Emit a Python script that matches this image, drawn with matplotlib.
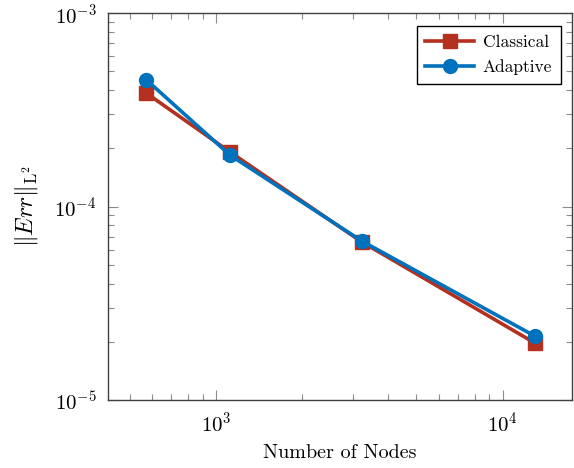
import matplotlib
matplotlib.use('Agg')
import matplotlib.pyplot as plt

plt.rcParams['font.family'] = 'serif'
plt.rcParams['font.serif'] = ['cmr10', 'DejaVu Serif']
plt.rcParams['mathtext.fontset'] = 'cm'
plt.rcParams['axes.formatter.use_mathtext'] = True

# data
nodes = [573, 1119, 3222, 12966]
err_classical = [3.86e-4, 1.92e-4, 6.58e-5, 1.97e-5]
err_adaptive = [4.52e-4, 1.85e-4, 6.65e-5, 2.14e-5]

red = '#B4301F'
blue = '#0072BD'

fig = plt.figure(figsize=(5.74, 4.68), dpi=100)
ax = fig.add_axes([0.1873, 0.1453, 0.8092, 0.8263])

ax.plot(nodes, err_classical, color=red, lw=2.6, marker='s', ms=10,
        label='Classical')
ax.plot(nodes, err_adaptive, color=blue, lw=2.6, marker='o', ms=10,
        label='Adaptive')

ax.set_xscale('log')
ax.set_yscale('log')
ax.set_xlim(419, 17460)
ax.set_ylim(1e-5, 1e-3)

ax.tick_params(which='both', direction='in', top=True, right=True,
               color='#8c8c8c', labelsize=15, pad=8)
ax.tick_params(which='major', length=7, width=0.8)
ax.tick_params(which='minor', length=4, width=0.8)
for s in ax.spines.values():
    s.set_color('#404040')
    s.set_linewidth(1.0)

ax.set_xlabel('Number of Nodes', fontsize=14.5, labelpad=6)
ax.set_ylabel(r'$\|Err\|_{\mathrm{L}^2}$', fontsize=17, labelpad=10)

leg = ax.legend(loc='upper right', fontsize=12.5, fancybox=False,
                edgecolor='black', framealpha=1, handlelength=2.8,
                handletextpad=0.5, borderpad=0.5, labelspacing=0.5,
                borderaxespad=0, bbox_to_anchor=(0.976, 0.966))
leg.get_frame().set_linewidth(1.0)

fig.savefig('out.png', dpi=100)
